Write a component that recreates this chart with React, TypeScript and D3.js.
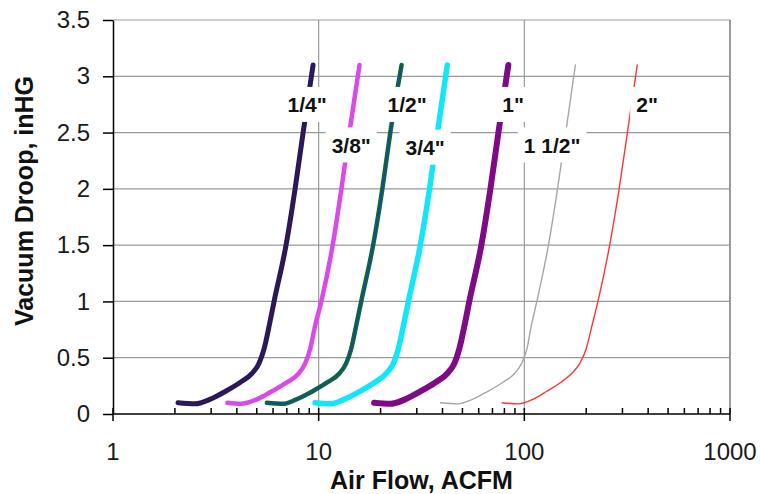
import React, { useEffect, useRef } from 'react';
import * as d3 from 'd3';

// vacuum droop levels shared by every hose curve (inHG)
const droop = [0.1, 0.09, 0.13, 0.2, 0.28, 0.36, 0.45, 0.58, 0.78, 1.0, 1.5, 2.0, 2.5, 3.1];

// air flow (ACFM) at each droop level, one list per hose size
const flowQuarter = [2.07, 2.51, 2.96, 3.51, 4.15, 4.74, 5.13, 5.43, 5.74, 6.07, 6.94, 7.68, 8.4, 9.39];
const flowThreeEighths = [3.6, 4.2, 5.0, 5.9, 7.0, 8.0, 8.6, 9.1, 9.6, 10.3, 11.7, 12.9, 14.1, 15.8];
const flowHalf = [5.6, 6.7, 7.8, 9.3, 11.0, 12.6, 13.6, 14.4, 15.2, 16.1, 18.4, 20.4, 22.3, 25.3];
const flowThreeQuarter = [9.6, 11.3, 13.3, 15.8, 18.7, 21.3, 23.1, 24.4, 25.8, 27.3, 31.2, 34.6, 37.8, 42.2];
const flowOne = [18.6, 22.3, 26.3, 31.2, 36.9, 42.2, 45.7, 48.3, 51.1, 54.0, 61.8, 68.4, 74.8, 83.6];
const flowOneHalf = [39.1, 47.4, 55.9, 66.3, 78.4, 89.6, 97.0, 103, 108, 115, 131, 145, 159, 177];
const flowTwo = [78, 94, 110, 128, 150, 170, 186, 200, 213, 228, 260, 289, 317, 354];

const hoseNames = ['1/4"', '3/8"', '1/2"', '3/4"', '1"', '1 1/2"', '2"'];
const labelFlow = [8.78, 14.4, 26.9, 32.9, 88.2, 136.5, 395];
const labelDroop = [2.75, 2.39, 2.75, 2.37, 2.75, 2.39, 2.75];

const yTicks = [0, 0.5, 1, 1.5, 2, 2.5, 3, 3.5];
const xTicks = [1, 10, 100, 1000];

const flows = [flowQuarter, flowThreeEighths, flowHalf, flowThreeQuarter, flowOne, flowOneHalf, flowTwo];
const styles = [
  { color: '#1e1a62', width: 5, inner: '#5c1034' },
  { color: '#ec3ff0', width: 4.5, inner: '#9a70d8' },
  { color: '#0e6a2c', width: 4.5, inner: '#1a3ad8' },
  { color: '#12e6fa', width: 5.5, inner: null },
  { color: '#7e0a86', width: 6, inner: null },
  { color: '#a6a6a6', width: 1.4, inner: null },
  { color: '#ff3434', width: 1.4, inner: null },
];

const FONT = 'Liberation Sans, Arial, Helvetica, sans-serif';

export default function App() {
  const ref = useRef<SVGSVGElement>(null);

  useEffect(() => {
    if (!ref.current) return;
    const svg = d3.select(ref.current);
    svg.selectAll('*').remove();

    const x = d3.scaleLog().domain([1, 1000]).range([113, 730]);
    const y = d3.scaleLinear().domain([0, 3.5]).range([414, 20]);

    // gridlines
    const grid = svg.append('g');
    grid.selectAll('line.h')
      .data(yTicks.filter(d => d > 0))
      .enter().append('line')
      .attr('x1', x(1)).attr('x2', x(1000))
      .attr('y1', d => y(d)).attr('y2', d => y(d))
      .attr('stroke', '#999').attr('stroke-width', 1.2);
    grid.selectAll('line.v')
      .data(xTicks.slice(1))
      .enter().append('line')
      .attr('x1', d => x(d)).attr('x2', d => x(d))
      .attr('y1', y(3.5)).attr('y2', y(0))
      .attr('stroke', '#999').attr('stroke-width', d => (d === 1000 ? 2 : 1.2));

    // curves
    const line = d3.line<[number, number]>()
      .x(d => x(d[0]))
      .y(d => y(d[1]))
      .curve(d3.curveMonotoneX);

    flows.forEach((f, i) => {
      const pts = f.map((v, j) => [v, droop[j]] as [number, number]);
      const s = styles[i];
      svg.append('path')
        .attr('d', line(pts))
        .attr('fill', 'none')
        .attr('stroke', s.color)
        .attr('stroke-width', s.width)
        .attr('stroke-linecap', 'round')
        .attr('stroke-linejoin', 'round');
      if (s.inner) {
        svg.append('path')
          .attr('d', line(pts))
          .attr('fill', 'none')
          .attr('stroke', s.inner)
          .attr('stroke-width', 1)
          .attr('stroke-linecap', 'round');
      }
    });

    // data labels on white boxes
    hoseNames.forEach((name, i) => {
      const cx = x(labelFlow[i]);
      const cy = y(labelDroop[i]);
      const g = svg.append('g');
      const rect = g.append('rect').attr('fill', '#fff');
      const t = g.append('text')
        .attr('x', cx).attr('y', cy).attr('dy', '0.36em')
        .attr('text-anchor', 'middle')
        .attr('font-family', FONT).attr('font-size', 21).attr('font-weight', 'bold')
        .attr('fill', '#111')
        .text(name);
      const w = (t.node() as SVGTextElement).getComputedTextLength();
      rect.attr('x', cx - w / 2 - 6).attr('y', cy - 17.5)
        .attr('width', w + 12).attr('height', 35);
    });

    // y axis
    const yAxis = svg.append('g')
      .attr('transform', `translate(${x(1)},0)`)
      .call(d3.axisLeft(y).tickValues(yTicks).tickSize(10).tickSizeOuter(0).tickPadding(13).tickFormat(d3.format('')));
    yAxis.select('.domain').attr('stroke', '#000').attr('stroke-width', 1.5);
    yAxis.selectAll('.tick line').attr('stroke', '#000').attr('stroke-width', 1.5);
    yAxis.selectAll('.tick text')
      .attr('font-family', FONT).attr('font-size', 24).attr('fill', '#1a1a1a');

    // x axis (log, minor ticks inside, major ticks crossing)
    const xAxis = svg.append('g');
    xAxis.append('line')
      .attr('x1', x(1)).attr('x2', x(1000)).attr('y1', y(0)).attr('y2', y(0))
      .attr('stroke', '#000').attr('stroke-width', 1.5);
    const allTicks = x.ticks();
    const isMajor = (d: number) => xTicks.includes(d);
    xAxis.selectAll('line.tk')
      .data(allTicks)
      .enter().append('line')
      .attr('x1', d => x(d)).attr('x2', d => x(d))
      .attr('y1', y(0) - 6)
      .attr('y2', d => (isMajor(d) ? y(0) + 7 : y(0)))
      .attr('stroke', '#000').attr('stroke-width', 1.5);
    xAxis.selectAll('text')
      .data(xTicks)
      .enter().append('text')
      .attr('x', d => x(d)).attr('y', 460)
      .attr('text-anchor', 'middle')
      .attr('font-family', FONT).attr('font-size', 24).attr('fill', '#1a1a1a')
      .text(d => String(d));

    // axis titles
    svg.append('text')
      .attr('x', (x(1) + x(1000)) / 2).attr('y', 489)
      .attr('text-anchor', 'middle')
      .attr('font-family', FONT).attr('font-size', 25).attr('font-weight', 'bold')
      .attr('fill', '#111')
      .text('Air Flow, ACFM');
    svg.append('text')
      .attr('transform', 'translate(33,201) rotate(-90)')
      .attr('text-anchor', 'middle')
      .attr('font-family', FONT).attr('font-size', 25).attr('font-weight', 'bold')
      .attr('fill', '#111')
      .text('Vacuum Droop, inHG');
  }, []);

  return (
    <svg
      ref={ref}
      width={760}
      height={494}
      style={{ position: 'absolute', left: 0, top: 0, background: '#fff' }}
    />
  );
}
